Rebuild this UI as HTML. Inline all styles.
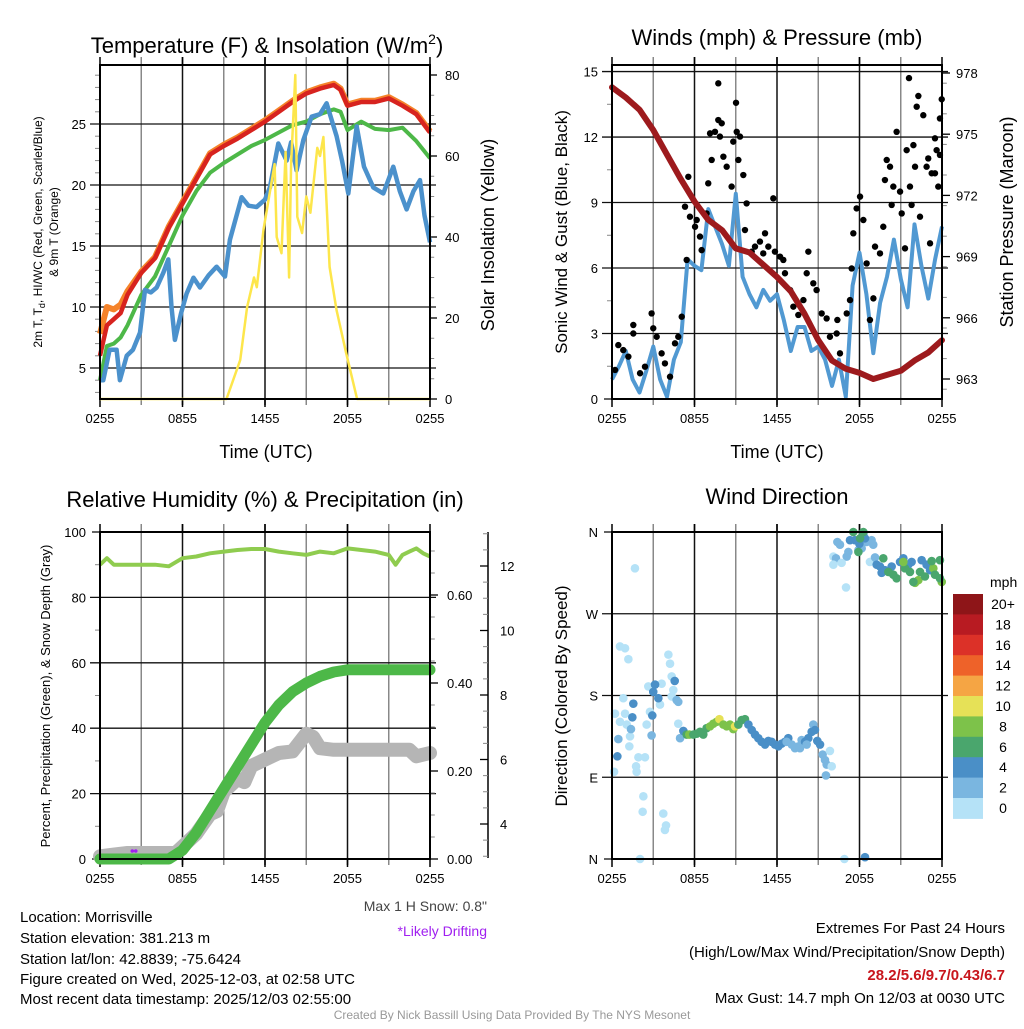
<!DOCTYPE html>
<html><head><meta charset="utf-8"><style>
body{margin:0;background:#fff;width:1024px;height:1024px;overflow:hidden}
svg{font-family:"Liberation Sans",sans-serif}
</style></head><body>
<svg id="s" width="1024" height="1024" viewBox="0 0 1024 1024" xmlns="http://www.w3.org/2000/svg">
<g id="bg"><rect width="1024" height="1024" fill="#fff"/></g>
<text x="267" y="53" font-size="22" text-anchor="middle">Temperature (F) &amp; Insolation (W/m<tspan font-size="14" dy="-9">2</tspan><tspan dy="9">)</tspan></text>
<text x="777" y="45" font-size="22" text-anchor="middle">Winds (mph) &amp; Pressure (mb)</text>
<text x="265" y="507" font-size="22" text-anchor="middle">Relative Humidity (%) &amp; Precipitation (in)</text>
<text x="777" y="504" font-size="22" text-anchor="middle">Wind Direction</text>
<text x="266" y="458" font-size="18" text-anchor="middle">Time (UTC)</text>
<text x="777" y="458" font-size="18" text-anchor="middle">Time (UTC)</text>
<text transform="translate(42,232) rotate(-90)" font-size="12" text-anchor="middle">2m T, T<tspan font-size="9" dy="3">d</tspan><tspan dy="-3">, HI/WC (Red, Green, Scarlet/Blue)</tspan></text>
<text transform="translate(58,232) rotate(-90)" font-size="12" text-anchor="middle">&amp; 9m T (Orange)</text>
<text transform="translate(494,235) rotate(-90)" font-size="18" text-anchor="middle">Solar Insolation (Yellow)</text>
<text transform="translate(567,232) rotate(-90)" font-size="17" text-anchor="middle">Sonic Wind &amp; Gust (Blue, Black)</text>
<text transform="translate(1013,222) rotate(-90)" font-size="18" text-anchor="middle">Station Pressure (Maroon)</text>
<text transform="translate(50,696) rotate(-90)" font-size="13" text-anchor="middle">Percent, Precipitation (Green), &amp; Snow Depth (Gray)</text>
<text transform="translate(567,696) rotate(-90)" font-size="17" text-anchor="middle">Direction (Colored By Speed)</text>
<g font-size="15">
<text x="20" y="922">Location: Morrisville</text>
<text x="20" y="943">Station elevation: 381.213 m</text>
<text x="20" y="964">Station lat/lon: 42.8839; -75.6424</text>
<text x="20" y="984">Figure created on Wed, 2025-12-03, at 02:58 UTC</text>
<text x="20" y="1004">Most recent data timestamp: 2025/12/03 02:55:00</text>
</g>
<text x="487" y="911" font-size="14" fill="#444" text-anchor="end">Max 1 H Snow: 0.8"</text>
<text x="487" y="936" font-size="14" fill="#a020f0" text-anchor="end">*Likely Drifting</text>
<g font-size="15" text-anchor="end">
<text x="1005" y="933">Extremes For Past 24 Hours</text>
<text x="1005" y="957">(High/Low/Max Wind/Precipitation/Snow Depth)</text>
<text x="1005" y="980" fill="#c8161d" font-weight="bold">28.2/5.6/9.7/0.43/6.7</text>
<text x="1005" y="1003">Max Gust: 14.7 mph On 12/03 at 0030 UTC</text>
</g>
<text x="512" y="1019" font-size="12" fill="#999" text-anchor="middle">Created By Nick Bassill Using Data Provided By The NYS Mesonet</text>
</svg>
<script>
// ---------- data ----------
const xTickLabels=["0255","0855","1455","2055","0255"];
const tempHours=[0,0.5,1,1.5,2,3,4,5,6,7,8,9,10,11,12,13,14,15,16,17,17.5,18,19,20,21,22,23,24];
const airTemp=[6,8.5,9,9.5,11,12.8,14,16.5,18.5,20.5,22.5,23.2,23.8,24.5,25.2,26,26.8,27.5,27.9,28.2,27.8,26.5,26.8,26.8,27.1,26.5,25.8,24.3];
const temp9m=[7.8,10,9.8,10.2,11.3,12.9,14.1,16.6,18.6,20.6,22.6,23.3,23.9,24.6,25.3,26.1,26.9,27.6,28,28.3,27.9,26.6,26.9,26.9,27.2,26.6,25.9,24.4];
const windChill=[4,6.8,7,7.5,8.5,11,12.5,15,17.5,19.5,21,21.8,22.5,23.2,23.7,24.3,24.9,25.2,25.8,26.2,26,24.5,25.2,24.6,24.5,24.7,23.6,22.2];
const dewHours=[0,0.24,0.7,1.21,1.45,1.94,2.4,2.91,3.27,3.7,4.12,4.6,4.97,5.2,5.45,5.9,6.3,6.8,7.27,7.9,8.48,9.09,9.45,10.3,10.8,11.39,12.0,12.36,12.97,13.58,13.9,14.3,14.79,15.39,16.0,16.48,17.21,17.6,18.06,18.67,19.2,19.88,20.6,21.33,21.8,22.3,22.8,23.27,23.6,24];
const dewPoint=[4,4,6.5,6.5,4,6,6.5,7.9,11.4,11.2,11.6,12.8,13.9,10,7.3,9.5,11.1,12.4,11.6,12.6,13.3,12.5,15.5,19,18.3,18.2,18.8,19.8,23.4,22,23.5,21.2,23.7,25.6,25.8,26.7,24,22,19.3,24.8,21.5,19.8,19.3,21.5,19.5,18,19.5,20.4,17.5,15.3];
const solarHours=[0,9.2,10.2,10.7,11.2,11.4,11.9,12.4,12.7,12.85,13.2,13.5,13.75,13.9,14.2,14.35,14.7,15.0,15.3,15.8,16.0,16.25,16.7,17.2,17.9,18.7,24];
const solar=[0,0,9.6,22.7,30,27.6,42,52,58,40,36,61,30,58,80,45,41,50,46,62,60,64.7,32.6,22,11.4,0,0];
const windHalfHours=[0.9,1.5,2.2,0.9,0.3,1.3,2.4,0.9,0.1,1.8,2.6,6.4,6.1,5.9,8.7,7.9,7.1,6.1,9.4,5.6,4.8,4.2,5.0,4.5,4.8,3.6,2.2,3.3,3.3,2.2,2.4,1.8,0.6,1.8,0.1,5.2,6.7,4.8,2.1,4.4,5.6,7.3,5.5,4.2,8.0,6.1,4.6,6.4,7.9];
const pressure=[977.3,976.8,976.2,975.2,974,972.8,971.7,970.8,970.3,969.4,969.2,968.6,968,967.3,966.2,964.9,963.9,963.5,963.3,963.0,963.2,963.4,963.9,964.3,964.9];
const gustHours=[0.22,0.46,0.82,1.19,1.55,1.55,2.04,2.4,2.88,3.0,3.25,3.61,3.85,4.22,4.58,4.82,5.07,5.43,5.31,5.55,5.67,6.04,6.16,6.4,6.52,6.88,7.0,7.25,7.13,7.49,7.73,7.73,7.98,7.85,8.1,8.34,8.7,8.82,9.02,9.07,9.31,9.19,9.55,9.79,9.67,10.16,10.4,10.76,11.13,11.0,11.37,11.73,11.85,12.22,12.46,12.58,12.95,13.19,13.55,13.92,14.28,14.16,14.64,14.88,15.25,15.61,15.85,16.39,16.34,16.58,17.07,17.31,17.43,17.55,17.79,18.04,18.28,18.52,18.76,19.01,19.13,19.49,19.73,19.85,19.98,20.22,20.46,20.7,20.95,21.07,21.31,21.43,21.67,21.92,22.04,22.16,22.28,22.64,22.88,23.0,23.25,23.49,23.61,23.73,23.85,23.98,23.85,23.49,23.13,22.4,21.79,20.34,21.6];
const gustSpeed=[1.33,2.47,2.24,1.94,3.39,3.0,1.18,1.48,3.92,3.24,2.85,2.09,1.63,1.02,2.55,2.85,3.77,6.37,8.81,10.18,8.35,7.89,8.2,7.44,6.82,8.5,9.88,10.95,12.17,12.24,12.78,14.46,12.63,12.02,11.1,10.64,9.73,11.79,13.57,12.24,12.02,10.95,10.26,8.96,7.74,6.75,6.98,7.21,7.59,6.67,6.98,9.19,6.75,6.52,6.37,5.76,4.99,4.23,3.85,4.53,6.75,5.76,5.3,4.99,3.92,3.69,2.85,3.62,3.0,2.09,3.92,4.53,5.98,7.59,8.73,9.27,8.2,6.21,3.62,4.61,6.98,6.67,7.89,10.03,10.95,10.64,9.73,12.24,9.5,8.5,6.9,11.4,9.73,11.63,10.64,13.39,13.88,13.0,10.64,11.02,10.34,11.94,11.4,9.73,12.85,13.73,11.18,10.34,7.13,8.35,8.89,8.89,14.7];
const rhHours=[0,0.5,1,2,3,4,5,6,7,8,9,10,11,12,13,14,15,16,17,18,19,20,21,21.5,22,22.5,23,23.5,24];
const rh=[90,92,90,90,90,90,89.5,92,92.5,93.5,94,94.5,94.8,94.8,94,93.5,93,94,93.5,95,94.5,94,93,90,93,94,95,93.5,92.5];
const precipHours=[0,1,2,3,4,5,6,7,8,9,10,11,12,13,14,15,16,17,18,19,20,21,22,23,24];
const precip=[0,0,0,0,0,0,0.02,0.06,0.11,0.16,0.21,0.26,0.31,0.35,0.38,0.40,0.415,0.425,0.43,0.43,0.43,0.43,0.43,0.43,0.43];
const snowHours=[0,1,2,3,4,5,5.5,6,7,7.5,8,8.5,9,10,10.5,11,12,13,14,15,15.5,16,17,18,19,20,21,22,22.5,23,24];
const snowDepth=[3.0,3.05,3.1,3.1,3.1,3.1,3.1,3.3,3.7,4.0,4.3,4.4,5.0,5.4,5.3,5.8,6.0,6.2,6.25,6.8,6.7,6.35,6.3,6.3,6.3,6.3,6.3,6.3,6.3,6.1,6.2];
const snowLabels=["4","6","8","10","12"];
const dirHours=[0.58,0.95,1.19,1.67,4.1,4.22,4.34,2.64,3.61,4.46,4.34,0.82,0.22,0.95,0.58,1.07,2.76,2.52,4.7,4.82,3.49,1.31,1.26,1.92,2.4,1.75,1.79,0.15,2.28,2.23,3.73,3.93,3.85,2.04,4.82,4.95,
3.13,3.0,3.37,1.55,1.48,2.93,1.38,2.88,0.46,0.39,4.56,
5.19,5.43,5.62,5.92,6.16,6.4,6.64,6.88,7.13,7.37,7.61,7.81,8.1,8.34,8.58,8.82,8.95,9.19,9.43,9.67,9.92,10.16,10.4,10.64,10.88,11.13,11.37,11.61,11.85,12.1,12.34,12.58,12.82,13.07,13.31,13.55,13.79,14.04,14.28,14.52,14.64,14.76,14.93,15.13,15.32,15.49,15.61,15.85,15.98,15.56,12.7,13.67,14.16,
16.39,16.58,17.19,17.07,16.1,16.29,16.7,16.1,17.02,18.76,18.52,18.88,19.0,19.13,18.16,17.92,
17.31,17.67,17.99,18.28,18.4,19.25,19.49,19.61,19.85,20.34,20.95,21.19,21.55,21.79,22.52,22.88,23.13,
17.55,18.28,17.92,18.04,19.73,20.1,20.46,20.7,21.31,21.67,22.04,22.28,22.4,22.76,23.37,23.49,23.85,23.25,23.98,23.85,21.92,21.19,
16.9,18.4];
const dirDeg=[234,232,220,320,225,215,201,190,193,186,179,177,160,160,151,148,162,148,175,173,170,135,124,112,112,102,96,96,69,52,50,37,32,0,149,133,
192,184,177,171,156,158,143,136,132,113,196,
141,137,137,137,138,140,137,144,146,149,151,154,148,146,148,143,146,148,153,154,148,142,137,133,129,126,130,129,126,124,127,129,133,126,122,124,131,129,133,140,148,142,130,126,115,109,104,119,102,92,129,122,126,
349,346,338,333,333,331,326,324,299,327,349,351,346,332,342,340,
351,351,347,358,353,324,322,315,318,322,327,331,324,327,329,324,318,
360,360,338,353,331,316,313,309,320,316,304,307,316,311,320,313,329,328,305,309,305,327,
0,2];
const dirSpeed=[1,1,1,1,1,1,1,1,1,1,1,1,1,1,1,1,1,1,3,3,1,1,1,1,1,1,1,1,1,1,1,1,1,1,1,3,
5,5,5,5,5,5,3,3,3,5,5,
5,7,9,7,7,7,7,7,9,9,9,11,9,9,9,9,11,7,7,7,5,5,5,5,5,5,5,5,5,5,5,5,5,3,3,3,3,5,5,5,3,5,5,5,3,3,3,1,1,3,3,3,3,
3,3,3,3,1,3,1,1,1,1,3,3,3,3,3,3,
5,5,5,5,5,5,5,5,5,5,5,5,5,5,5,5,5,
7,7,7,7,7,7,7,7,7,7,9,9,7,7,9,7,7,7,9,7,7,9,
1,5];
const speedBins=["0","2","4","6","8","10","12","14","16","18","20+"];
const binColors=["#b5e2f7","#7ab6e0","#4a8fc7","#4aa66d","#7dc24a","#e6e157","#f5a544","#ee6229","#dc3128","#b81b22","#8e1518"];
// ---------- helpers ----------
const NS="http://www.w3.org/2000/svg";const S=document.getElementById('s');
function mk(tag,at,parent){const e=document.createElementNS(NS,tag);for(const k in at)e.setAttribute(k,at[k]);(parent||S).appendChild(e);return e;}
function txt(x,y,t,size,anchor,parent){const e=mk('text',{x:x,y:y,'font-size':size,'text-anchor':anchor||'middle'},parent);e.textContent=t;return e;}
function pathOf(xs,ys){return xs.map((x,i)=>(i?'L':'M')+x.toFixed(1)+' '+ys[i].toFixed(1)).join(' ');}
function panel(name,L,T,R,B,yTicks,yLabels,yScale,hMinor){
  const g=mk('g',{});
  
  
  const hx=h=>L+(R-L)*h/24;
  for(let h=3;h<24;h+=3){const l=mk('line',{x1:hx(h),y1:T-8,x2:hx(h),y2:B+6,stroke:(h%6==0)?'#111':'#888','stroke-width':1.5},g);
    
    }
  yTicks.forEach((v,i)=>{const y=yScale(v);
    if(y>T+2&&y<B-2){const l=mk('line',{x1:L-10,y1:y,x2:R+6,y2:y,stroke:'#111','stroke-width':1.3},g);
      
      }
    else mk('line',{x1:L-8,y1:y,x2:L,y2:y,stroke:'#111','stroke-width':1.3},g);
    const t=txt(L-14,y+5,yLabels[i],13,'end',g);
    
    });
  hMinor.forEach(v=>{const y=yScale(v);mk('line',{x1:L-5,y1:y,x2:L,y2:y,stroke:'#888','stroke-width':1},g);});
  mk('rect',{x:L,y:T,width:R-L,height:B-T,fill:'none',stroke:'#000','stroke-width':2},g);
  [0,6,12,18,24].forEach((h,i)=>{mk('line',{x1:hx(h),y1:B,x2:hx(h),y2:B+8,stroke:'#000','stroke-width':1.5},g);
    mk('line',{x1:hx(h),y1:T,x2:hx(h),y2:T-8,stroke:'#000','stroke-width':1.5},g);
    const t=txt(hx(h),B+24,xTickLabels[i],13,'middle',g);
    
    });
  return {g,hx};
}
function rightAxis(name,X,T,B,ticks,labels,scale,minor,lx,tickLen){
  const g=mk('g',{});
  
  
  ticks.forEach((v,i)=>{const y=scale(v);mk('line',{x1:X,y1:y,x2:X+tickLen,y2:y,stroke:'#000','stroke-width':1.3},g);
    const t=txt(lx,y+5,labels[i],13,'start',g);
    
    });
  minor.forEach(v=>{const y=scale(v);mk('line',{x1:X,y1:y,x2:X+tickLen*0.6,y2:y,stroke:'#888','stroke-width':1},g);});
}
function range(a,b,s){const r=[];for(let v=a;v<=b+1e-9;v+=s)r.push(+v.toFixed(3));return r;}

// ---------- Panel 1: temperature ----------
(function(){
 const L=100,T=65,R=430,B=399;
 const ty=v=>368-(v-5)*12.2, sy=v=>399-v*4.05;
 const p=panel('temp',L,T,R,B,[5,10,15,20,25],["5","10","15","20","25"],ty,range(3,29,1).filter(v=>v%5));
 rightAxis('insolation-axis',R,T,B,[0,20,40,60,80],["0","20","40","60","80"],sy,range(5,80,5).filter(v=>v%20),R+15,7);
 const hx=p.hx;
 const o=mk('path',{d:pathOf(tempHours.map(hx),temp9m.map(ty)),fill:'none',stroke:'#f5832a','stroke-width':6,'stroke-linejoin':'round'});
 
 
 const gr=mk('path',{d:pathOf(tempHours.map(hx),windChill.map(ty)),fill:'none',stroke:'#4db848','stroke-width':4,'stroke-linejoin':'round'});
 
 
 const bl=mk('path',{d:pathOf(dewHours.map(hx),dewPoint.map(ty)),fill:'none',stroke:'#4b91cc','stroke-width':4.5,'stroke-linejoin':'round'});
 
 
 const r=mk('path',{d:pathOf(tempHours.map(hx),airTemp.map(ty)),fill:'none',stroke:'#d7231f','stroke-width':4.5,'stroke-linejoin':'round'});
 
 
 const y2=mk('path',{d:pathOf(solarHours.map(hx),solar.map(sy)),fill:'none',stroke:'#fde64b','stroke-width':2.5,'stroke-linejoin':'round'});
 
 
 mk('rect',{x:L,y:T,width:R-L,height:B-T,fill:'none',stroke:'#000','stroke-width':2});
})();

// ---------- Panel 2: winds & pressure ----------
(function(){
 const L=612,T=65,R=942,B=399;
 const wy=v=>399-v*21.83, py=v=>379-(v-963)*20.4;
 const p=panel('wind',L,T,R,B,[0,3,6,9,12,15],["0","3","6","9","12","15"],wy,range(1.5,13.5,3));
 rightAxis('pressure-axis',R,T,B,[963,966,969,972,975,978],["963","966","969","972","975","978"],py,range(962.5,977.5,1.5).filter(v=>Math.abs(v%3)>0.1),R+14,8);
 const hx=p.hx;
 const wl=mk('path',{d:pathOf(windHalfHours.map((v,i)=>hx(i/2)),windHalfHours.map(wy)),fill:'none',stroke:'#5199d2','stroke-width':4,'stroke-linejoin':'round'});
 
 
 gustHours.forEach((h,i)=>{const c=mk('circle',{cx:hx(h),cy:wy(gustSpeed[i]),r:3.2,fill:'#000'});
  
  });
 const pl=mk('path',{d:pathOf(pressure.map((v,i)=>hx(i)),pressure.map(py)),fill:'none',stroke:'#9d1a1d','stroke-width':6,'stroke-linejoin':'round','stroke-linecap':'round'});
 
 
 mk('rect',{x:L,y:T,width:R-L,height:B-T,fill:'none',stroke:'#000','stroke-width':2});
})();

// ---------- Panel 3: RH & precip ----------
(function(){
 const L=100,T=532,R=430,B=859;
 const ry=v=>859-v*3.27, pry=v=>859-v*440, sny=v=>824-(v-4)*32.25;
 const p=panel('rh',L,T,R,B,[0,20,40,60,80,100],["0","20","40","60","80","100"],ry,range(10,90,20));
 rightAxis('precip-axis',R,T,B,[0,0.2,0.4,0.6],["0.00","0.20","0.40","0.60"],pry,range(0.05,0.7,0.05).filter(v=>Math.abs((v*10)%2)>0.1),R+17,8);
 const ax=mk('line',{x1:488,y1:532,x2:488,y2:858,stroke:'#000','stroke-width':1.5});
 
 
 [4,6,8,10,12].forEach((v,i)=>{mk('line',{x1:480,y1:sny(v),x2:488,y2:sny(v),stroke:'#000','stroke-width':1.3});
  const t=txt(500,sny(v)+5,snowLabels[i],13,'start');
  
  });
 range(3,13,0.5).forEach(v=>{if(v%2)mk('line',{x1:483,y1:sny(v),x2:488,y2:sny(v),stroke:'#888','stroke-width':1});});
 const hx=p.hx;
 const sn=mk('path',{d:pathOf(snowHours.map(hx),snowDepth.map(sny)),fill:'none',stroke:'#b5b5b5','stroke-width':14,'stroke-linejoin':'round','stroke-linecap':'round'});
 
 
 const pr=mk('path',{d:pathOf(precipHours.map(hx),precip.map(pry)),fill:'none',stroke:'#4db848','stroke-width':11,'stroke-linejoin':'round','stroke-linecap':'round'});
 
 
 const rl=mk('path',{d:pathOf(rhHours.map(hx),rh.map(ry)),fill:'none',stroke:'#8fcc4f','stroke-width':4,'stroke-linejoin':'round'});
 
 
 [2.35,2.6].forEach(h=>{const d=mk('circle',{cx:hx(h),cy:851,r:1.8,fill:'#a020f0'});
  
  });
 mk('rect',{x:L,y:T,width:R-L,height:B-T,fill:'none',stroke:'#000','stroke-width':2});
})();

// ---------- Panel 4: wind direction ----------
(function(){
 const L=612,T=532,R=942,B=859;
 const dy=v=>859-v/360*327;
 const p=panel('dir',L,T,R,B,[0,90,180,270,360],["N","E","S","W","N"],dy,[]);
 const hx=p.hx;
 dirHours.forEach((h,i)=>{const b=Math.min(10,Math.floor(dirSpeed[i]/2));
  const c=mk('circle',{cx:hx(h),cy:dy(dirDeg[i]),r:4.3,fill:binColors[b]});
  
  });
 mk('rect',{x:L,y:T,width:R-L,height:B-T,fill:'none',stroke:'#000','stroke-width':2});
 const cb=mk('g',{});
 
 
 const t0=txt(990,587,'mph',14,'start',cb);
 
 
 const top=594,hh=20.4;
 speedBins.forEach((lab,i)=>{const k=10-i;const yy=top+i*hh;
  mk('rect',{x:953,y:yy,width:30,height:hh+0.5,fill:binColors[k]},cb);
  const t=txt(1003,yy+15,speedBins[k],14,'middle',cb);
  
  });
})();
</script>
</body></html>
